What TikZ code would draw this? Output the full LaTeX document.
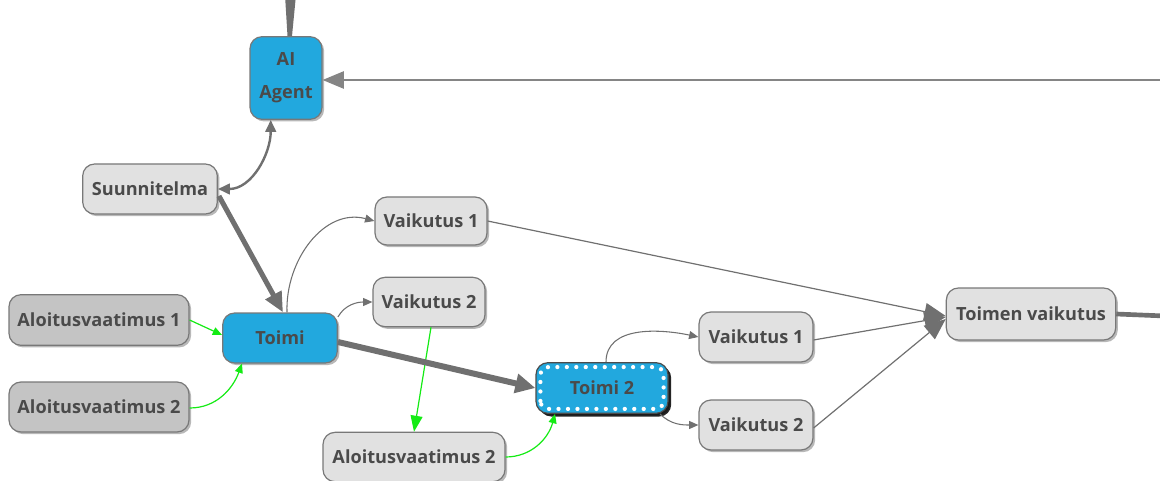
\documentclass[tikz,border=0pt]{standalone}
\usepackage{fontspec}
\setmainfont{Open Sans}
\usetikzlibrary{arrows.meta,shadows,calc}
\definecolor{actblue}{RGB}{34,168,222}
\definecolor{boxlight}{RGB}{225,225,225}
\definecolor{boxdark}{RGB}{196,196,196}
\definecolor{boxline}{RGB}{120,120,120}
\definecolor{labeltext}{RGB}{74,74,74}
\definecolor{edgegray}{RGB}{112,112,112}
\definecolor{reqgreen}{RGB}{20,235,20}
\tikzset{
  box/.style={draw=boxline, line width=0.9pt, rounded corners=9pt, align=center,
    text=labeltext, font=\fontsize{13.6}{22.5}\selectfont\bfseries, inner sep=0pt,
    drop shadow={shadow xshift=1.6pt, shadow yshift=-1.6pt, fill=black, opacity=0.28}},
  lightbox/.style={box, fill=boxlight},
  darkbox/.style={box, fill=boxdark},
  actbox/.style={box, fill=actblue},
  thinedge/.style={draw=edgegray, line width=0.8pt, -{Triangle[length=7pt,width=6pt]}},
  thickedge/.style={draw=edgegray, line width=3.8pt, -{Triangle[length=15pt,width=13pt]}},
  reqedge/.style={draw=reqgreen, line width=0.9pt, -{Triangle[length=7pt,width=6pt]}},
}
\begin{document}
\begin{tikzpicture}[x=0.75pt,y=-0.75pt]
\useasboundingbox (0,0) rectangle (1160,481);

% nodes
\node[actbox, minimum width=54pt, minimum height=62pt] (ai) at (286,78)
  {\raisebox{-1pt}{\parbox{50pt}{\centering\fontsize{13.6}{25}\selectfont AI\\Agent}}};
\node[lightbox, minimum width=101pt, minimum height=37.5pt] (sun) at (150,189) {Suunnitelma};
\node[lightbox, minimum width=84pt, minimum height=36pt] (v1a) at (431,221) {Vaikutus 1};
\node[lightbox, minimum width=84pt, minimum height=37pt] (v2a) at (429,302) {Vaikutus 2};
\node[darkbox, minimum width=135pt, minimum height=38pt] (al1) at (99,320) {Aloitusvaatimus 1};
\node[darkbox, minimum width=135pt, minimum height=37.5pt] (al2) at (99,407) {Aloitusvaatimus 2};
\node[actbox, minimum width=86pt, minimum height=37.5pt] (toimi) at (280,338) {Toimi};
\node[actbox, draw=black!70, minimum width=99pt, minimum height=38pt,
  drop shadow={shadow xshift=2.4pt, shadow yshift=-2.4pt, fill=black, opacity=0.85}] (t2) at (602,388) {Toimi 2};
\draw[white, line width=3.2pt, line cap=round, dash pattern=on 0pt off 7.1pt, rounded corners=6pt]
  ($(t2.south west)+(5,-5)$) rectangle ($(t2.north east)+(-5,5)$);
\node[lightbox, minimum width=136.5pt, minimum height=37pt] (al3) at (414,457) {Aloitusvaatimus 2};
\node[lightbox, minimum width=85.5pt, minimum height=37.5pt] (v1b) at (756,337) {Vaikutus 1};
\node[lightbox, minimum width=85.5pt, minimum height=37.5pt] (v2b) at (756,425) {Vaikutus 2};
\node[lightbox, minimum width=127pt, minimum height=39pt] (tv) at (1031,314) {Toimen vaikutus};

% free ends beyond the frame
\coordinate (feedin) at (1165,80);
\coordinate (outgo) at (1165,316);
\coordinate (upward) at (290.5,-5);

% incoming link from above into the agent
\fill[edgegray] ($(ai.north)+(1.5,0)$) -- ($(ai.north)+(6,0)$) -- ($(upward)+(5.5,0)$) -- ($(upward)+(-5.5,0)$) -- cycle;

% long feedback line into the agent
\draw[draw=edgegray!85, line width=1.2pt, -{Triangle[length=16pt,width=13pt]}] (feedin) -- (ai.east |- feedin);

% agent <-> plan
\draw[draw=edgegray, line width=1.8pt, {Triangle[length=9pt,width=8pt]}-{Triangle[length=9pt,width=8pt]}]
  (ai.250) to[out=-90, in=0] (sun.east);

% plan -> action
\draw[thickedge] ($(sun.east)+(1,7)$) -- ($(toimi.north)+(3,0)$);

% action -> effects
\draw[thinedge] ($(toimi.north)+(7,0)$) to[out=92, in=165, looseness=1.05] (v1a.west);
\draw[thinedge] (toimi.20) to[out=60, in=180] (v2a.west);

% preconditions of the first action
\draw[reqedge] (al1.east) -- ($(toimi.west)+(0,-3)$);
\draw[reqedge] ($(al2.east)+(0,1)$) to[out=0, in=-110] ($(toimi.south)+(-38,0)$);

% effect feeds a precondition of the second action
\draw[reqedge, -{Triangle[length=12pt,width=9pt]}] ($(v2a.south)+(2,0)$) -- (al3.north);
\draw[reqedge] (al3.east) to[out=0, in=-105] ($(t2.south)+(-47,0)$);

% action -> second action
\draw[draw=edgegray, line width=4.5pt, -{Triangle[length=15pt,width=14pt]}] ($(toimi.east)+(0,4)$) -- (t2.west);

% second action -> effects
\draw[thinedge] ($(t2.north)+(4,0)$) to[out=90, in=168] (v1b.west);
\draw[thinedge] ($(t2.south)+(58,0)$) to[out=-45, in=180] (v2b.west);

% effects -> combined effect
\draw[draw=edgegray, line width=0.9pt, -{Triangle[length=16pt,width=13pt]}] (v1a.east) -- ($(tv.west)+(0,2)$);
\draw[draw=edgegray, line width=0.9pt, -{Triangle[length=16pt,width=13pt]}] ($(v1b.east)+(0,3)$) -- ($(tv.west)+(0,3)$);
\draw[draw=edgegray, line width=0.9pt, -{Triangle[length=16pt,width=13pt]}] ($(v2b.east)+(0,3)$) -- ($(tv.west)+(0,5)$);

% combined effect goes on
\draw[draw=edgegray, line width=3.5pt] (tv.east) -- (outgo);
\end{tikzpicture}
\end{document}
